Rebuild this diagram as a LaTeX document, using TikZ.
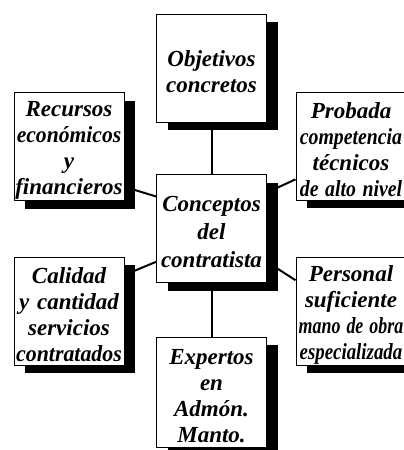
\documentclass[tikz,border=0pt]{standalone}
\usepackage{fontspec}
\setmainfont{Liberation Serif}
\usetikzlibrary{shadows,backgrounds}
\tikzset{
  caja/.style={draw, line width=1pt, fill=white, text width=110pt,
    minimum height=108pt, inner sep=0pt, align=center,
    font=\fontsize{23}{26}\selectfont\bfseries\itshape,
    execute at end node={\par\vspace*{-8pt}},
    drop shadow={shadow xshift=11pt, shadow yshift=-8pt, fill=black, opacity=1}},
  liga/.style={-, line width=2pt}
}
\newcommand{\linea}[2][1]{\mbox{\scalebox{#1}[1]{#2}}}
\begin{document}
\begin{tikzpicture}[x=1pt,y=-1pt]
    \useasboundingbox (0,0) rectangle (404,450);
    \clip (0,0) rectangle (404,450);
    \def\xl{69}
    \def\xm{211.5}
    \def\xr{351}
    \node [caja] (A0_1) at (\xm, 68) {Objetivos\\concretos};
    \node [caja] (A1_0) at (\xl, 146.5) {Recursos\\\linea[0.94]{económicos}\\y\\financieros};
    \node [caja] (A1_2) at (\xr, 146) {Probada\\\linea[0.86]{competencia}\\técnicos\\\linea[0.86]{de alto nivel}};
    \node [caja, font=\fontsize{23}{28}\selectfont\bfseries\itshape]
      (A2_1) at (\xm, 228.5) {Conceptos\\del\\contratista};
    \node [caja] (A3_0) at (\xl, 311) {Calidad\\\linea{y cantidad}\\servicios\\\linea[0.95]{contratados}};
    \node [caja] (A3_2) at (\xr, 311) {Personal\\suficiente\\\linea[0.78]{mano de obra}\\\linea[0.82]{especializada}};
    \node [caja, minimum height=110pt, font=\fontsize{23}{26}\selectfont\bfseries\itshape]
      (A4_1) at (\xm, 392) {Expertos\\en\\Admón.\\Manto.};
    \begin{scope}[on background layer]
      \path (A0_1) edge [liga] (A2_1);
      \path (A2_1) edge [liga] (A4_1);
      \path (A1_0.-36) edge [liga] (A2_1.150);
      \path (A2_1.33) edge [liga] (A1_2.211);
      \path (A3_0.33) edge [liga] (A2_1.211);
      \path (A2_1.-31) edge [liga] (A3_2.151);
    \end{scope}
\end{tikzpicture}
\end{document}
